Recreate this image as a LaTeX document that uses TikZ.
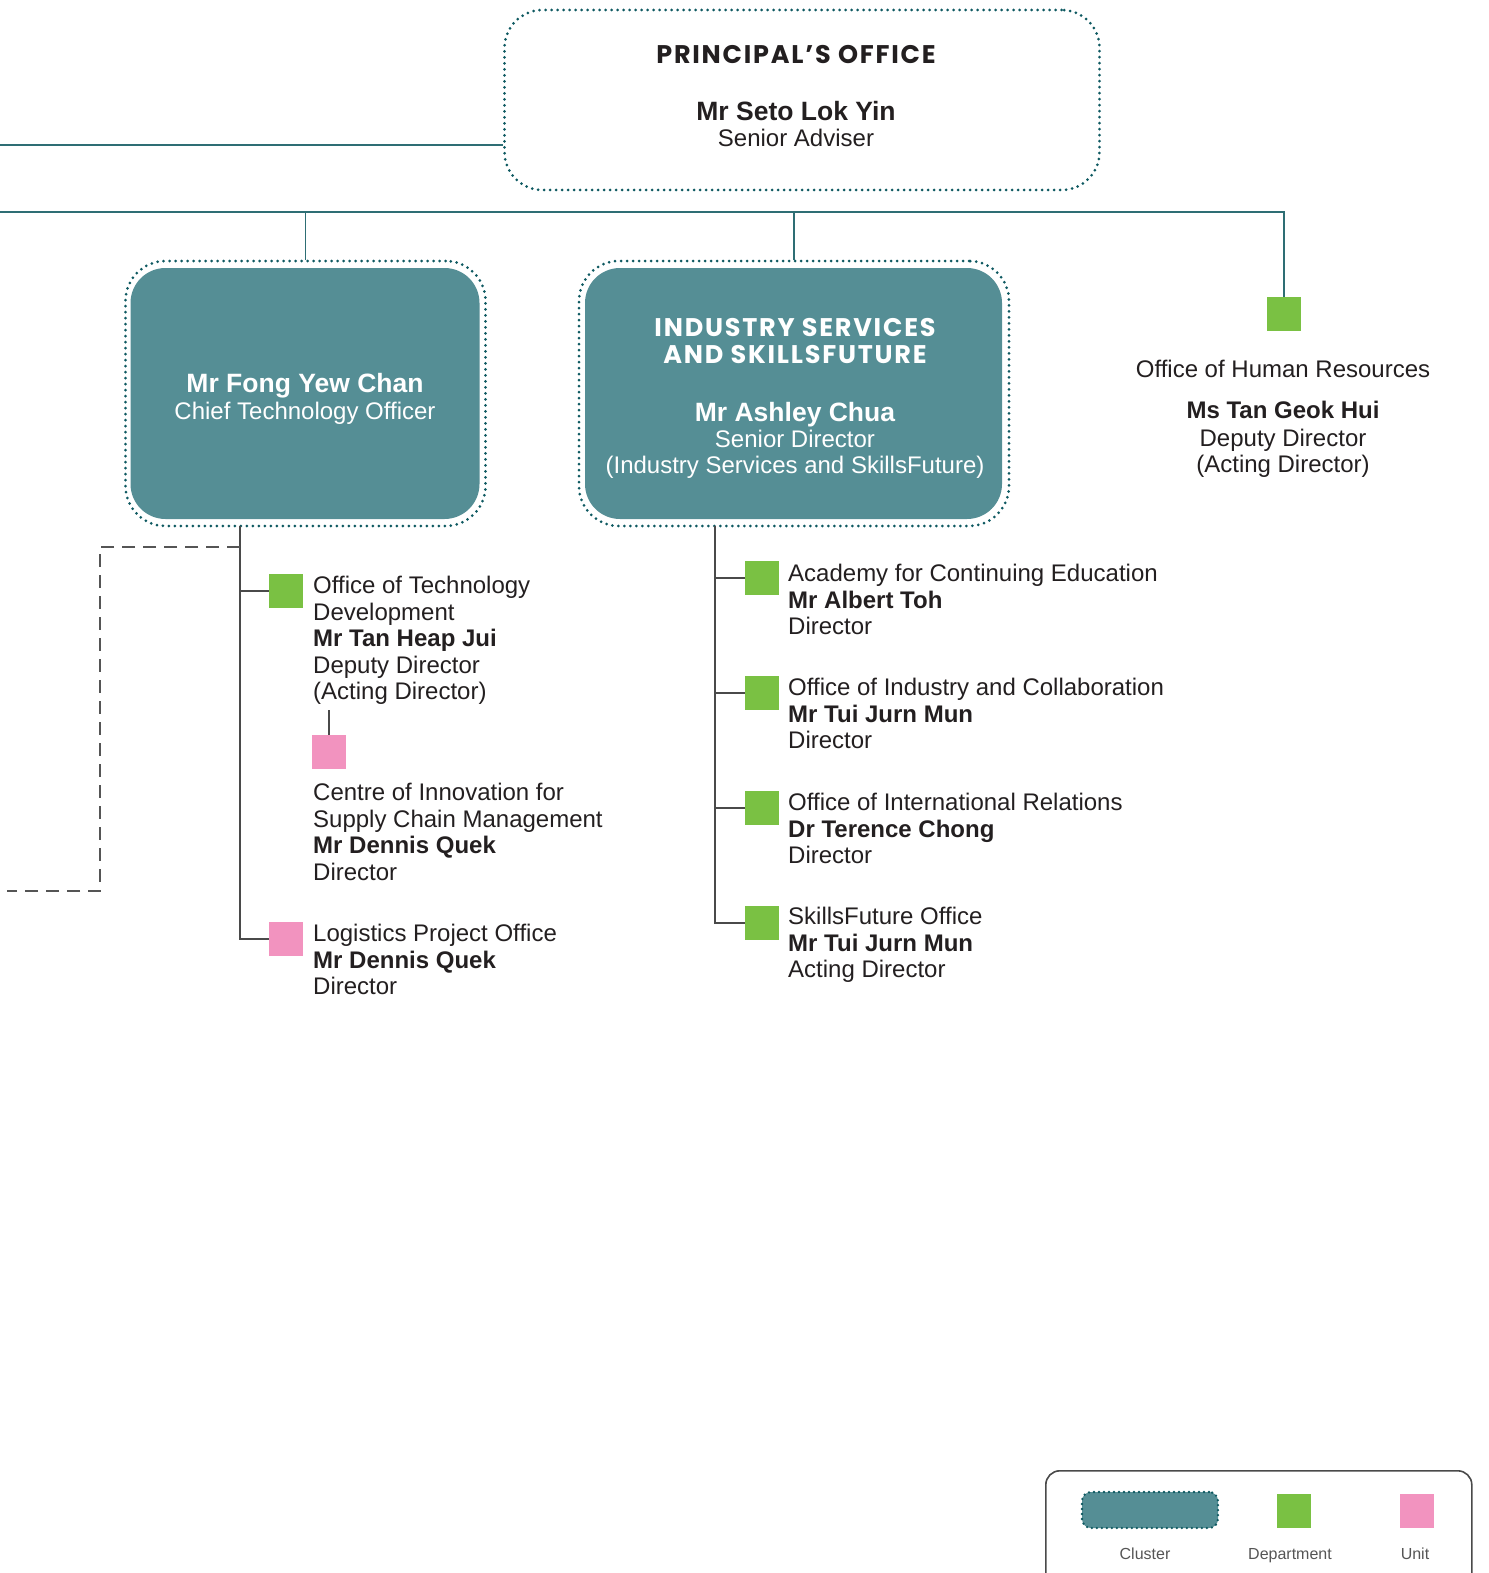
\documentclass[tikz,border=0pt]{standalone}
\usepackage{fontspec}
\setmainfont{Liberation Sans}
\newfontfamily\headfont{Poppins}[LetterSpace=7]
\definecolor{txtc}{HTML}{231F20}
\definecolor{teal}{HTML}{558E95}
\definecolor{dotc}{HTML}{0E5961}
\definecolor{busc}{HTML}{2E6E74}
\definecolor{treec}{HTML}{4A4A4A}
\definecolor{deptc}{HTML}{7AC143}
\definecolor{unitc}{HTML}{F293BF}
\definecolor{legc}{HTML}{555555}
\newcommand\fsmain{\fontsize{24}{26.5}\selectfont}
\newcommand\fsname{\fontsize{26.5}{28}\selectfont\bfseries}
\newcommand\fshead{\fontsize{25.5}{27}\selectfont\headfont\bfseries}
\begin{document}
\begin{tikzpicture}[x=1pt,y=-1pt,
  dotted outline/.style={draw=dotc, line width=3pt, dash pattern=on 0pt off 6pt, line cap=round},
  clusterfill/.style={fill=teal, draw=none, rounded corners=35pt, inner sep=0pt},
  bus/.style={draw=busc, line width=1.6pt},
  tree/.style={draw=treec, line width=1.7pt},
  sq/.style={minimum width=34pt, minimum height=34pt, inner sep=0pt, draw=none},
  dept/.style={sq, fill=deptc},
  unit/.style={sq, fill=unitc},
  blk/.style={anchor=north west, inner sep=0pt, align=left, font=\fsmain, text=txtc},
  ln/.style={anchor=base, inner sep=0pt, font=\fsmain, text=txtc},
  wln/.style={anchor=base, inner sep=0pt, font=\fsmain, text=white},
]
\useasboundingbox (0,0) rectangle (1488,1573);
\clip (0,0) rectangle (1488,1573);

% Principal's office
\node[dotted outline, rounded corners=38pt, minimum width=595pt, minimum height=180pt, inner sep=0pt] (po) at (802,100) {};
\node[anchor=base, inner sep=0pt, font=\fshead, text=txtc] (poh) at (796,64) {PRINCIPAL’S OFFICE};
\node[anchor=base, inner sep=0pt, font=\fsname, text=txtc] (pon) at (796,121) {Mr Seto Lok Yin};
\node[ln] (pot) at (796,147) {Senior Adviser};

\coordinate (lefta) at (0,145);
\draw[bus] (lefta) -- (lefta -| po.west);

% bus
\coordinate (busl) at (0,212);
\coordinate (busr) at (1284,212);

% Cluster 1
\node[dotted outline, rounded corners=40pt, minimum width=360pt, minimum height=265pt, inner sep=0pt] (c1o) at (305.5,393.5) {};
\node[clusterfill, minimum width=349pt, minimum height=251pt] (c1) at (305,393.5) {};
\node[wln, font=\fsname] (c1n) at (305,392) {Mr Fong Yew Chan};
\node[wln] (c1t) at (305,419) {Chief Technology Officer};

% Cluster 2
\node[dotted outline, rounded corners=40pt, minimum width=430pt, minimum height=265pt, inner sep=0pt] (c2o) at (794,393.5) {};
\node[clusterfill, minimum width=417pt, minimum height=251pt] (c2) at (793.5,393.5) {};
\node[anchor=base, inner sep=0pt, font=\fshead, text=white] (c2h1) at (795,336) {INDUSTRY SERVICES};
\node[anchor=base, inner sep=0pt, font=\fshead, text=white] (c2h2) at (795,363) {AND SKILLSFUTURE};
\node[wln, font=\fsname] (c2n) at (795,421) {Mr Ashley Chua};
\node[wln] (c2t1) at (795,447) {Senior Director};
\node[wln] (c2t2) at (795,473) {(Industry Services and SkillsFuture)};

% HR
\node[dept] (hr) at (1284,314) {};
\node[ln] (hrt) at (1283,377) {Office of Human Resources};
\node[ln, font=\fsmain\bfseries] (hrn) at (1283,418) {Ms Tan Geok Hui};
\node[ln] (hrd) at (1283,446) {Deputy Director};
\node[ln] (hra) at (1283,472) {(Acting Director)};

% bus lines
\draw[bus] (busl) -- (busr) -- (hr.north);
\draw[bus] (c1o.north) -- (c1o.north |- busl);
\draw[bus] (c2o.north) -- (c2o.north |- busl);

% Left tree
\node[dept] (otd) at (286,591) {};
\node[unit] (coi) at (329,752) {};
\node[unit] (lpo) at (286,939) {};
\coordinate (lt) at (240,526);
\coordinate (ltb) at (240,939);
\draw[tree] (lt) -- (ltb) -- (lpo.west);
\draw[tree] (lt |- otd) -- (otd.west);
\coordinate (coitop) at (329,710);
\draw[tree] (coitop) -- (coi.north);
\node[blk] (otdt) at (313,576) {Office of Technology\\Development\\\textbf{Mr Tan Heap Jui}\\Deputy Director\\(Acting Director)};
\node[blk] (coit) at (313,783) {Centre of Innovation for\\Supply Chain Management\\\textbf{Mr Dennis Quek}\\Director};
\node[blk] (lpot) at (313,924) {Logistics Project Office\\\textbf{Mr Dennis Quek}\\Director};

% dashed
\coordinate (d1) at (240,547);
\coordinate (d2) at (100,547);
\coordinate (d3) at (100,891);
\coordinate (d4) at (7,891);
\draw[draw=legc, line width=1.7pt, dash pattern=on 13pt off 8pt] (d1) -- (d2) -- (d3) -- (d4);

% Right tree
\node[dept] (ace) at (762,578) {};
\node[dept] (oic) at (762,693) {};
\node[dept] (oir) at (762,808) {};
\node[dept] (sfo) at (762,923) {};
\coordinate (rt) at (715,526);
\draw[tree] (rt) -- (rt |- sfo) -- (sfo.west);
\draw[tree] (rt |- ace) -- (ace.west);
\draw[tree] (rt |- oic) -- (oic.west);
\draw[tree] (rt |- oir) -- (oir.west);
\node[blk] (acet) at (788,564) {Academy for Continuing Education\\\textbf{Mr Albert Toh}\\Director};
\node[blk] (oict) at (788,678) {Office of Industry and Collaboration\\\textbf{Mr Tui Jurn Mun}\\Director};
\node[blk] (oirt) at (788,793) {Office of International Relations\\\textbf{Dr Terence Chong}\\Director};
\node[blk] (sfot) at (788,907) {SkillsFuture Office\\\textbf{Mr Tui Jurn Mun}\\Acting Director};

% Legend
\node[draw=treec, line width=1.6pt, rounded corners=14pt, minimum width=426pt, minimum height=160pt, inner sep=0pt, anchor=north west] (leg) at (1045,1470) {};
\node[fill=teal, dotted outline, line width=2.6pt, dash pattern=on 0pt off 5pt, rounded corners=9pt, minimum width=136pt, minimum height=36pt, inner sep=0pt] (lgc) at (1150,1510) {};
\node[dept] (lgd) at (1294,1511) {};
\node[unit] (lgu) at (1417,1511) {};
\node[anchor=base, inner sep=0pt, font=\fontsize{16}{18}\selectfont, text=legc] (lgct) at (1145,1559) {Cluster};
\node[anchor=base, inner sep=0pt, font=\fontsize{16}{18}\selectfont, text=legc] (lgdt) at (1290,1559) {Department};
\node[anchor=base, inner sep=0pt, font=\fontsize{16}{18}\selectfont, text=legc] (lgut) at (1415,1559) {Unit};
\end{tikzpicture}
\end{document}
